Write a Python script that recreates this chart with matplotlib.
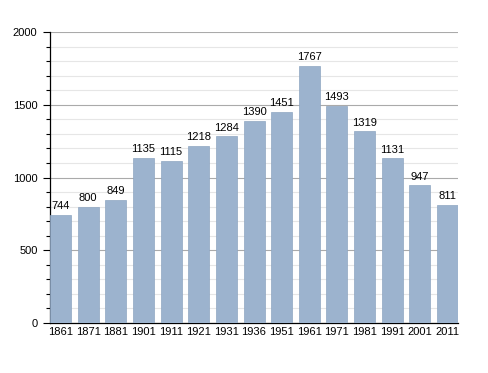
import matplotlib.pyplot as plt
from matplotlib.ticker import MultipleLocator

years = ['1861', '1871', '1881', '1901', '1911', '1921', '1931', '1936',
         '1951', '1961', '1971', '1981', '1991', '2001', '2011']
population = [744, 800, 849, 1135, 1115, 1218, 1284, 1390,
              1451, 1767, 1493, 1319, 1131, 947, 811]

plt.rcParams['font.family'] = ['Liberation Sans', 'DejaVu Sans']
plt.rcParams['font.size'] = 8

fig = plt.figure(figsize=(4.88, 3.73), dpi=100)
ax = fig.add_axes([0.1025, 0.134, 0.836, 0.780])

x = range(len(years))
w = 0.76
ax.bar(x, population, width=w, color='#9cb3ce', edgecolor='#8ea6c2', linewidth=0.5, zorder=3)
for i, v in zip(x, population):
    ax.text(i, v + 25, str(v), ha='center', va='bottom', fontsize=8, zorder=4)

ax.set_ylim(0, 2000)
ax.set_xlim(-w / 2, len(years) - 1 + w / 2)
ax.yaxis.set_major_locator(MultipleLocator(500))
ax.yaxis.set_minor_locator(MultipleLocator(100))
ax.grid(axis='y', which='major', color='#aaaaaa', linewidth=0.8, zorder=0)
ax.grid(axis='y', which='minor', color='#e6e6e6', linewidth=0.8, zorder=0)
ax.set_xticks(list(x))
ax.set_xticklabels(years)
ax.tick_params(axis='x', length=0, pad=3)
ax.tick_params(axis='y', which='major', length=5, width=0.8, pad=4)
ax.tick_params(axis='y', which='minor', length=3, width=0.8)

for s in ['top', 'right']:
    ax.spines[s].set_visible(False)
ax.spines['left'].set_linewidth(0.9)
ax.spines['bottom'].set_linewidth(0.9)

plt.savefig('out.png', dpi=100)
